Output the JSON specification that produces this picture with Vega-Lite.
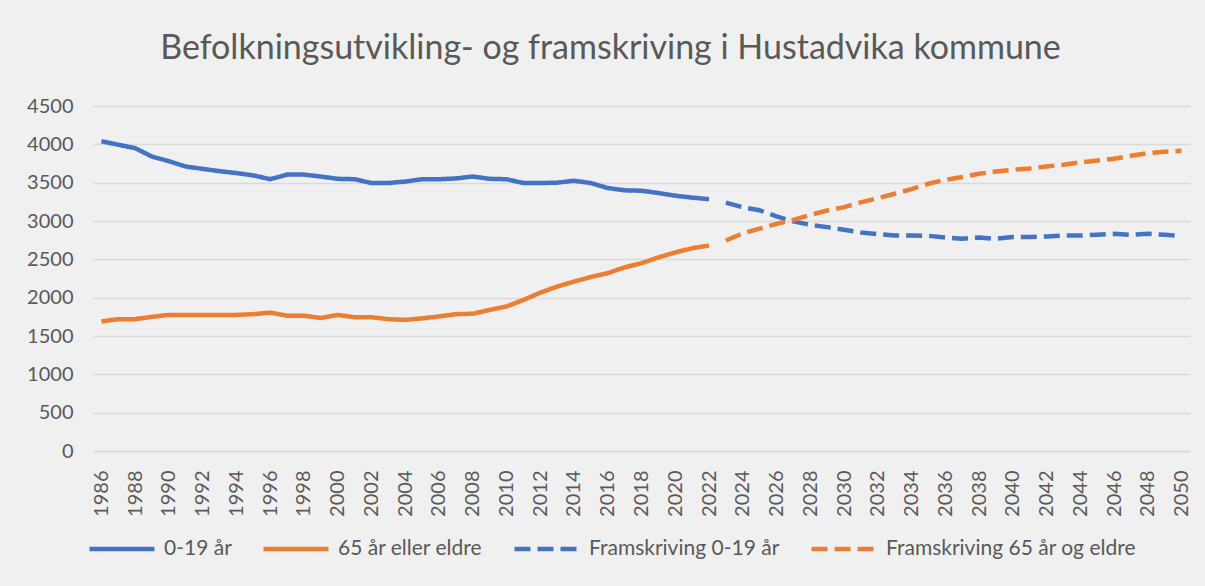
{
  "$schema": "https://vega.github.io/schema/vega-lite/v6.json",
  "width": 1097,
  "height": 345,
  "autosize": {"type": "none"},
  "padding": {"left": 93, "top": 106, "right": 15, "bottom": 135},
  "background": "#f0f0f0",
  "title": {
    "text": "Befolkningsutvikling- og framskriving i Hustadvika kommune",
    "font": "Lato",
    "fontSize": 34,
    "fontWeight": "normal",
    "color": "#595959",
    "anchor": "middle",
    "baseline": "alphabetic",
    "offset": 3,
    "dx": -31
  },
  "config": {
    "font": "Lato",
    "view": {"stroke": null},
    "axis": {"labelFont": "Lato", "labelColor": "#595959", "labelFontSize": 20, "gridColor": "#d9d9d9", "gridWidth": 1.3},
    "legend": {"labelFont": "Lato", "labelColor": "#595959", "labelFontSize": 21, "labelLimit": 0}
  },
  "data": {
    "values": [
      {"year": 1986, "series": "0-19 år", "value": 4040},
      {"year": 1987, "series": "0-19 år", "value": 3995},
      {"year": 1988, "series": "0-19 år", "value": 3950},
      {"year": 1989, "series": "0-19 år", "value": 3840},
      {"year": 1990, "series": "0-19 år", "value": 3780},
      {"year": 1991, "series": "0-19 år", "value": 3710},
      {"year": 1992, "series": "0-19 år", "value": 3680},
      {"year": 1993, "series": "0-19 år", "value": 3650},
      {"year": 1994, "series": "0-19 år", "value": 3625},
      {"year": 1995, "series": "0-19 år", "value": 3595},
      {"year": 1996, "series": "0-19 år", "value": 3545},
      {"year": 1997, "series": "0-19 år", "value": 3605},
      {"year": 1998, "series": "0-19 år", "value": 3605},
      {"year": 1999, "series": "0-19 år", "value": 3580},
      {"year": 2000, "series": "0-19 år", "value": 3550},
      {"year": 2001, "series": "0-19 år", "value": 3545},
      {"year": 2002, "series": "0-19 år", "value": 3495},
      {"year": 2003, "series": "0-19 år", "value": 3495},
      {"year": 2004, "series": "0-19 år", "value": 3515},
      {"year": 2005, "series": "0-19 år", "value": 3545},
      {"year": 2006, "series": "0-19 år", "value": 3545},
      {"year": 2007, "series": "0-19 år", "value": 3555},
      {"year": 2008, "series": "0-19 år", "value": 3580},
      {"year": 2009, "series": "0-19 år", "value": 3550},
      {"year": 2010, "series": "0-19 år", "value": 3545},
      {"year": 2011, "series": "0-19 år", "value": 3495},
      {"year": 2012, "series": "0-19 år", "value": 3495},
      {"year": 2013, "series": "0-19 år", "value": 3500},
      {"year": 2014, "series": "0-19 år", "value": 3525},
      {"year": 2015, "series": "0-19 år", "value": 3495},
      {"year": 2016, "series": "0-19 år", "value": 3430},
      {"year": 2017, "series": "0-19 år", "value": 3400},
      {"year": 2018, "series": "0-19 år", "value": 3395},
      {"year": 2019, "series": "0-19 år", "value": 3365},
      {"year": 2020, "series": "0-19 år", "value": 3330},
      {"year": 2021, "series": "0-19 år", "value": 3305},
      {"year": 2022, "series": "0-19 år", "value": 3285},
      {"year": 1986, "series": "65 år eller eldre", "value": 1690},
      {"year": 1987, "series": "65 år eller eldre", "value": 1720},
      {"year": 1988, "series": "65 år eller eldre", "value": 1720},
      {"year": 1989, "series": "65 år eller eldre", "value": 1750},
      {"year": 1990, "series": "65 år eller eldre", "value": 1775},
      {"year": 1991, "series": "65 år eller eldre", "value": 1775},
      {"year": 1992, "series": "65 år eller eldre", "value": 1775},
      {"year": 1993, "series": "65 år eller eldre", "value": 1775},
      {"year": 1994, "series": "65 år eller eldre", "value": 1775},
      {"year": 1995, "series": "65 år eller eldre", "value": 1785},
      {"year": 1996, "series": "65 år eller eldre", "value": 1805},
      {"year": 1997, "series": "65 år eller eldre", "value": 1765},
      {"year": 1998, "series": "65 år eller eldre", "value": 1765},
      {"year": 1999, "series": "65 år eller eldre", "value": 1735},
      {"year": 2000, "series": "65 år eller eldre", "value": 1775},
      {"year": 2001, "series": "65 år eller eldre", "value": 1745},
      {"year": 2002, "series": "65 år eller eldre", "value": 1745},
      {"year": 2003, "series": "65 år eller eldre", "value": 1720},
      {"year": 2004, "series": "65 år eller eldre", "value": 1710},
      {"year": 2005, "series": "65 år eller eldre", "value": 1730},
      {"year": 2006, "series": "65 år eller eldre", "value": 1755},
      {"year": 2007, "series": "65 år eller eldre", "value": 1785},
      {"year": 2008, "series": "65 år eller eldre", "value": 1790},
      {"year": 2009, "series": "65 år eller eldre", "value": 1840},
      {"year": 2010, "series": "65 år eller eldre", "value": 1885},
      {"year": 2011, "series": "65 år eller eldre", "value": 1970},
      {"year": 2012, "series": "65 år eller eldre", "value": 2065},
      {"year": 2013, "series": "65 år eller eldre", "value": 2145},
      {"year": 2014, "series": "65 år eller eldre", "value": 2210},
      {"year": 2015, "series": "65 år eller eldre", "value": 2270},
      {"year": 2016, "series": "65 år eller eldre", "value": 2320},
      {"year": 2017, "series": "65 år eller eldre", "value": 2395},
      {"year": 2018, "series": "65 år eller eldre", "value": 2450},
      {"year": 2019, "series": "65 år eller eldre", "value": 2525},
      {"year": 2020, "series": "65 år eller eldre", "value": 2590},
      {"year": 2021, "series": "65 år eller eldre", "value": 2645},
      {"year": 2022, "series": "65 år eller eldre", "value": 2680},
      {"year": 2023, "series": "Framskriving 0-19 år", "value": 3240},
      {"year": 2024, "series": "Framskriving 0-19 år", "value": 3180},
      {"year": 2025, "series": "Framskriving 0-19 år", "value": 3140},
      {"year": 2026, "series": "Framskriving 0-19 år", "value": 3060},
      {"year": 2027, "series": "Framskriving 0-19 år", "value": 2995},
      {"year": 2028, "series": "Framskriving 0-19 år", "value": 2950},
      {"year": 2029, "series": "Framskriving 0-19 år", "value": 2920},
      {"year": 2030, "series": "Framskriving 0-19 år", "value": 2885},
      {"year": 2031, "series": "Framskriving 0-19 år", "value": 2850},
      {"year": 2032, "series": "Framskriving 0-19 år", "value": 2830},
      {"year": 2033, "series": "Framskriving 0-19 år", "value": 2812},
      {"year": 2034, "series": "Framskriving 0-19 år", "value": 2812},
      {"year": 2035, "series": "Framskriving 0-19 år", "value": 2807},
      {"year": 2036, "series": "Framskriving 0-19 år", "value": 2785},
      {"year": 2037, "series": "Framskriving 0-19 år", "value": 2768},
      {"year": 2038, "series": "Framskriving 0-19 år", "value": 2785},
      {"year": 2039, "series": "Framskriving 0-19 år", "value": 2768},
      {"year": 2040, "series": "Framskriving 0-19 år", "value": 2790},
      {"year": 2041, "series": "Framskriving 0-19 år", "value": 2790},
      {"year": 2042, "series": "Framskriving 0-19 år", "value": 2798},
      {"year": 2043, "series": "Framskriving 0-19 år", "value": 2811},
      {"year": 2044, "series": "Framskriving 0-19 år", "value": 2811},
      {"year": 2045, "series": "Framskriving 0-19 år", "value": 2820},
      {"year": 2046, "series": "Framskriving 0-19 år", "value": 2833},
      {"year": 2047, "series": "Framskriving 0-19 år", "value": 2820},
      {"year": 2048, "series": "Framskriving 0-19 år", "value": 2833},
      {"year": 2049, "series": "Framskriving 0-19 år", "value": 2820},
      {"year": 2050, "series": "Framskriving 0-19 år", "value": 2807},
      {"year": 2023, "series": "Framskriving 65 år og eldre", "value": 2745},
      {"year": 2024, "series": "Framskriving 65 år og eldre", "value": 2840},
      {"year": 2025, "series": "Framskriving 65 år og eldre", "value": 2900},
      {"year": 2026, "series": "Framskriving 65 år og eldre", "value": 2963},
      {"year": 2027, "series": "Framskriving 65 år og eldre", "value": 3015},
      {"year": 2028, "series": "Framskriving 65 år og eldre", "value": 3080},
      {"year": 2029, "series": "Framskriving 65 år og eldre", "value": 3137},
      {"year": 2030, "series": "Framskriving 65 år og eldre", "value": 3181},
      {"year": 2031, "series": "Framskriving 65 år og eldre", "value": 3242},
      {"year": 2032, "series": "Framskriving 65 år og eldre", "value": 3299},
      {"year": 2033, "series": "Framskriving 65 år og eldre", "value": 3355},
      {"year": 2034, "series": "Framskriving 65 år og eldre", "value": 3416},
      {"year": 2035, "series": "Framskriving 65 år og eldre", "value": 3486},
      {"year": 2036, "series": "Framskriving 65 år og eldre", "value": 3538},
      {"year": 2037, "series": "Framskriving 65 år og eldre", "value": 3573},
      {"year": 2038, "series": "Framskriving 65 år og eldre", "value": 3616},
      {"year": 2039, "series": "Framskriving 65 år og eldre", "value": 3646},
      {"year": 2040, "series": "Framskriving 65 år og eldre", "value": 3668},
      {"year": 2041, "series": "Framskriving 65 år og eldre", "value": 3686},
      {"year": 2042, "series": "Framskriving 65 år og eldre", "value": 3712},
      {"year": 2043, "series": "Framskriving 65 år og eldre", "value": 3734},
      {"year": 2044, "series": "Framskriving 65 år og eldre", "value": 3764},
      {"year": 2045, "series": "Framskriving 65 år og eldre", "value": 3790},
      {"year": 2046, "series": "Framskriving 65 år og eldre", "value": 3812},
      {"year": 2047, "series": "Framskriving 65 år og eldre", "value": 3851},
      {"year": 2048, "series": "Framskriving 65 år og eldre", "value": 3886},
      {"year": 2049, "series": "Framskriving 65 år og eldre", "value": 3903},
      {"year": 2050, "series": "Framskriving 65 år og eldre", "value": 3916}
    ]
  },
  "mark": {"type": "line", "strokeWidth": 4.5, "strokeCap": "butt", "strokeJoin": "round"},
  "encoding": {
    "x": {
      "field": "year",
      "type": "quantitative",
      "scale": {"domain": [1985.5, 2050.5], "nice": false, "zero": false},
      "axis": {
        "title": null,
        "values": [1986, 1988, 1990, 1992, 1994, 1996, 1998, 2000, 2002, 2004, 2006, 2008, 2010, 2012, 2014, 2016, 2018, 2020, 2022, 2024, 2026, 2028, 2030, 2032, 2034, 2036, 2038, 2040, 2042, 2044, 2046, 2048, 2050],
        "format": "d",
        "labelAngle": -90,
        "labelAlign": "right",
        "labelBaseline": "middle",
        "ticks": false,
        "labelPadding": 19,
        "grid": false,
        "domain": true,
        "domainColor": "#d9d9d9",
        "domainWidth": 1.3,
        "labelOverlap": false,
        "labelFlush": false
      }
    },
    "y": {
      "field": "value",
      "type": "quantitative",
      "scale": {"domain": [0, 4500], "nice": false},
      "axis": {
        "title": null,
        "values": [0, 500, 1000, 1500, 2000, 2500, 3000, 3500, 4000, 4500],
        "format": "d",
        "ticks": false,
        "domain": false,
        "labelPadding": 20,
        "grid": true
      }
    },
    "color": {
      "field": "series",
      "type": "nominal",
      "scale": {
        "domain": ["0-19 år", "65 år eller eldre", "Framskriving 0-19 år", "Framskriving 65 år og eldre"],
        "range": ["#4472c4", "#ed7d31", "#4472c4", "#ed7d31"]
      },
      "legend": {
        "title": null,
        "orient": "none",
        "legendX": -6,
        "legendY": 408,
        "direction": "horizontal",
        "columns": 4,
        "symbolType": "stroke",
        "symbolSize": 4225,
        "symbolStrokeWidth": 4.5,
        "labelOffset": 7,
        "columnPadding": 22
      }
    },
    "strokeDash": {
      "field": "series",
      "type": "nominal",
      "scale": {
        "domain": ["0-19 år", "65 år eller eldre", "Framskriving 0-19 år", "Framskriving 65 år og eldre"],
        "range": [[1, 0], [1, 0], [16, 7], [16, 7]]
      },
      "legend": null
    }
  }
}
